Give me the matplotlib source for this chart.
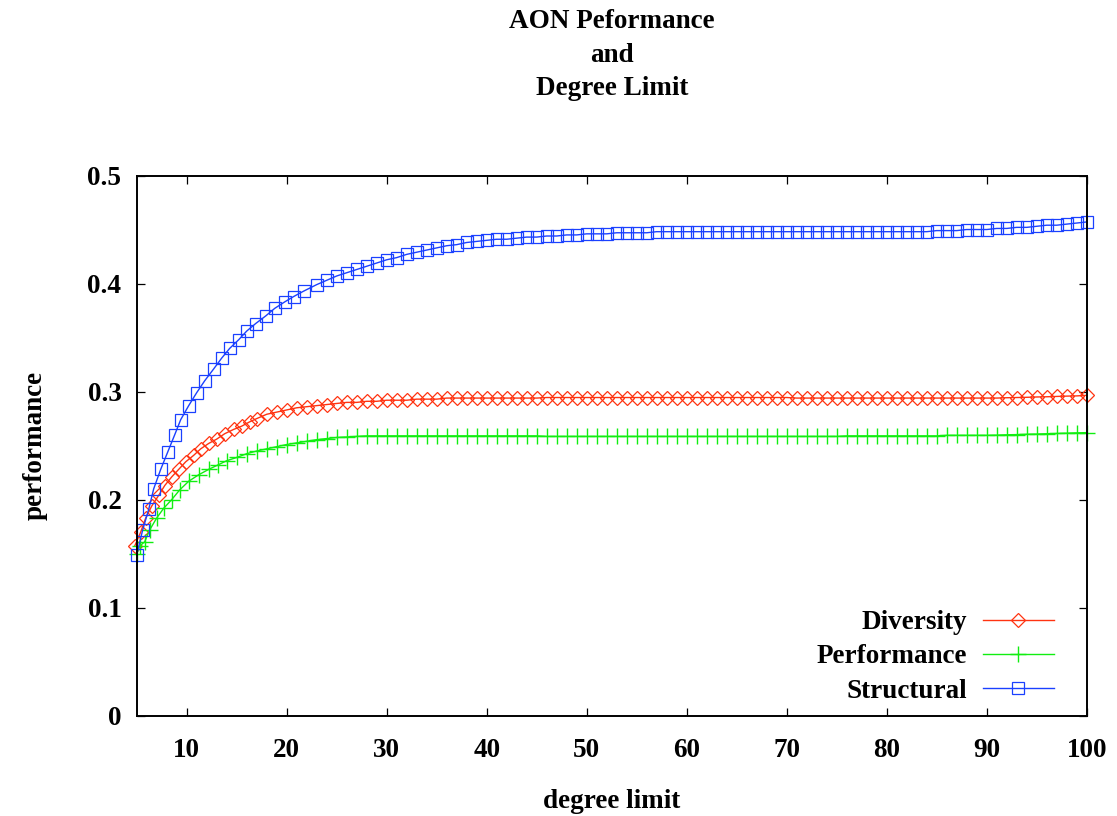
import matplotlib
matplotlib.use("Agg")
import matplotlib.pyplot as plt

plt.rcParams["font.family"] = ["Liberation Serif", "DejaVu Serif"]
plt.rcParams["font.weight"] = "bold"

# ---- data -----------------------------------------------------------------
# Diversity
div_x = [4.8, 5.4, 5.9, 6.5, 7.2, 7.8, 8.5, 9.2, 9.9, 10.7, 11.4, 12.2, 13.0,
         13.8, 14.7, 15.5, 16.3] + list(range(17, 101))
div_y = [0.157, 0.170, 0.183, 0.194, 0.204, 0.213, 0.221, 0.228, 0.235, 0.241,
         0.247, 0.252, 0.256, 0.261, 0.265, 0.268, 0.272,
         # 17 .. 35
         0.275, 0.279, 0.281, 0.283, 0.285, 0.286, 0.287, 0.288, 0.289, 0.290,
         0.290, 0.291, 0.291, 0.292, 0.292, 0.292, 0.293, 0.293, 0.293,
         # 36 .. 45
         0.294, 0.294, 0.294, 0.294, 0.294, 0.294, 0.294, 0.294, 0.294, 0.294,
         # 46 .. 70
         0.2945, 0.2945, 0.2945, 0.2945, 0.2945, 0.2945, 0.2945, 0.2945,
         0.2945, 0.2945, 0.2945, 0.2945, 0.2945, 0.2945, 0.2945, 0.2945,
         0.2945, 0.2945, 0.2945, 0.2945, 0.2945, 0.2945, 0.2945, 0.2945,
         0.2945,
         # 71 .. 90
         0.294, 0.294, 0.294, 0.294, 0.294, 0.294, 0.294, 0.294, 0.294, 0.294,
         0.294, 0.294, 0.294, 0.294, 0.294, 0.294, 0.294, 0.294, 0.294, 0.294,
         # 91 .. 100
         0.294, 0.2943, 0.2945, 0.2947, 0.295, 0.2952, 0.2955, 0.2958, 0.296,
         0.2965]

# Performance
perf_x = [5.0, 5.3, 5.8, 6.3, 7.0, 7.7, 8.5, 9.3, 10.2, 11.2, 12.2, 13.1,
          14.0, 15.0] + list(range(16, 101))
perf_y = [0.150, 0.157, 0.161, 0.172, 0.183, 0.192, 0.200, 0.209, 0.217,
          0.223, 0.228, 0.232, 0.236, 0.239,
          # 16 .. 29
          0.2425, 0.245, 0.247, 0.249, 0.251, 0.2525, 0.254, 0.2555, 0.2565,
          0.2575, 0.258, 0.2585, 0.259, 0.259,
          # 30 .. 45
          0.259, 0.259, 0.259, 0.259, 0.259, 0.259, 0.259, 0.259, 0.259,
          0.259, 0.259, 0.259, 0.259, 0.259, 0.259, 0.259,
          # 46 .. 75
          0.2585, 0.2585, 0.2585, 0.2585, 0.2585, 0.2585, 0.2585, 0.2585,
          0.2585, 0.2585, 0.2585, 0.2585, 0.2585, 0.2585, 0.2585, 0.2585,
          0.2585, 0.2585, 0.2585, 0.2585, 0.2585, 0.2585, 0.2585, 0.2585,
          0.2585, 0.2585, 0.2585, 0.2585, 0.2585, 0.2585,
          # 76 .. 85
          0.259, 0.259, 0.259, 0.259, 0.259, 0.259, 0.259, 0.259, 0.259, 0.259,
          # 86 .. 90
          0.2595, 0.2595, 0.2595, 0.2595, 0.2595,
          # 91 .. 100
          0.2597, 0.260, 0.2602, 0.2605, 0.2607, 0.261, 0.2612, 0.2615,
          0.2618, 0.262]

# Structural
struct_x = [5.0, 5.6, 6.2, 6.7, 7.4, 8.1, 8.8, 9.4, 10.2, 11.0, 11.8, 12.7,
            13.5, 14.3, 15.2, 16.0, 16.9, 17.9, 18.8, 19.8, 20.7, 21.7] \
    + list(range(23, 101))
struct_y = [0.149, 0.172, 0.191, 0.210, 0.228, 0.244, 0.260, 0.274, 0.287,
            0.299, 0.310, 0.321, 0.331, 0.340, 0.348, 0.356, 0.363, 0.370,
            0.377, 0.383, 0.388, 0.393,
            # 23 .. 57
            0.399, 0.403, 0.407, 0.410, 0.413, 0.416, 0.419, 0.422, 0.424,
            0.427, 0.429, 0.431, 0.433, 0.435, 0.436, 0.438, 0.439, 0.440,
            0.441, 0.441, 0.442, 0.443, 0.443, 0.444, 0.444, 0.445, 0.445,
            0.446, 0.446, 0.446, 0.447, 0.447, 0.447, 0.447, 0.448,
            # 58 .. 84
            0.448, 0.448, 0.448, 0.448, 0.448, 0.448, 0.448, 0.448, 0.448,
            0.448, 0.448, 0.448, 0.448, 0.448, 0.448, 0.448, 0.448, 0.448,
            0.448, 0.448, 0.448, 0.448, 0.448, 0.448, 0.448, 0.448, 0.448,
            # 85 .. 100
            0.449, 0.449, 0.449, 0.450, 0.450, 0.450, 0.451, 0.451, 0.452,
            0.452, 0.453, 0.454, 0.454, 0.455, 0.456, 0.457]

x_ticks = [10, 20, 30, 40, 50, 60, 70, 80, 90, 100]
y_ticks = [0, 0.1, 0.2, 0.3, 0.4, 0.5]
y_tick_labels = ["0", "0.1", "0.2", "0.3", "0.4", "0.5"]

# ---- figure ---------------------------------------------------------------
W, H = 1117, 816
fig = plt.figure(figsize=(W / 100, H / 100), dpi=100)
ax = fig.add_axes([136.7 / W, 1 - 715.7 / H, 950 / W, 540.2 / H])

FS = 19.5
RED, GREEN, BLUE = "#ff3311", "#11ee11", "#1a40ff"

ax.plot(div_x, div_y, color=RED, lw=1.0, marker="D", ms=7.6,
        mfc="none", mec=RED, mew=0.9, label="Diversity", clip_on=False)
ax.plot(perf_x, perf_y, color=GREEN, lw=1.0, marker="+", ms=11,
        mec=GREEN, mew=1.0, label="Performance", clip_on=False)
ax.plot(struct_x, struct_y, color=BLUE, lw=1.0, marker="s", ms=8.0,
        mfc="none", mec=BLUE, mew=0.9, label="Structural", clip_on=False)

ax.set_xlim(5, 100)
ax.set_ylim(0, 0.5)
ax.set_xticks(x_ticks)
ax.set_yticks(y_ticks)
ax.set_yticklabels(y_tick_labels)
ax.tick_params(direction="in", length=6, width=0.9, top=True, right=True,
               labelsize=FS)
ax.tick_params(axis="y", pad=11)
ax.tick_params(axis="x", pad=16)
for lab in ax.get_xticklabels() + ax.get_yticklabels():
    lab.set_fontweight("bold")
for sp in ax.spines.values():
    sp.set_linewidth(1.4)

leg = ax.legend(loc="lower right", bbox_to_anchor=(0.978, 0.0),
                frameon=False, markerfirst=False, fontsize=FS,
                handlelength=2.6, handletextpad=0.6, labelspacing=0.34,
                borderaxespad=0.2, borderpad=0.25)
for t in leg.get_texts():
    t.set_fontweight("bold")

fig.text(612 / W, 1 - 55 / H, "AON Peformance\nand\nDegree Limit",
         ha="center", va="center", fontsize=FS, fontweight="bold",
         linespacing=1.46)
fig.text(612 / W, 1 - 801 / H, "degree limit", ha="center", va="center",
         fontsize=FS, fontweight="bold")
fig.text(35 / W, 1 - 445 / H, "performance", ha="center", va="center",
         rotation=90, fontsize=FS, fontweight="bold")

fig.savefig("out.png", dpi=100)
